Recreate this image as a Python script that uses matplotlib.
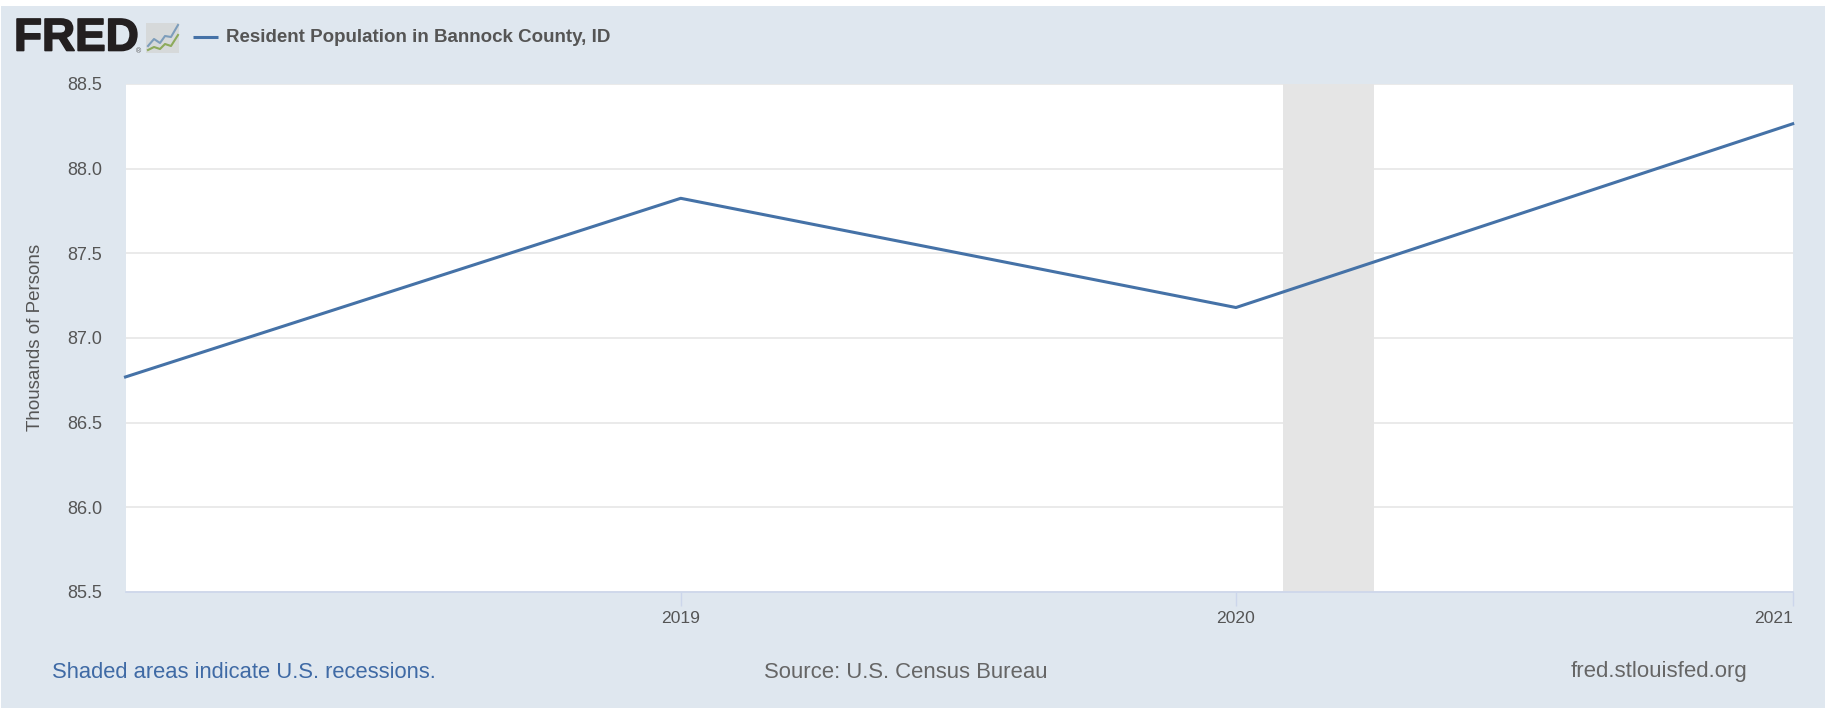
# -*- coding: utf-8 -*-
"""FRED chart: resident population in Bannock County, ID."""

import matplotlib
matplotlib.use("Agg")
import matplotlib.patheffects as pe
import matplotlib.pyplot as plt
import numpy as np
from matplotlib.lines import Line2D
from matplotlib.patches import Rectangle

# -----------------------------------------------------------------------------
# Data
# -----------------------------------------------------------------------------
dates = np.array(["2018-01-01", "2019-01-01", "2020-01-01", "2021-01-01"],
                 dtype="datetime64[D]")
population = [86.77, 87.825, 87.18, 88.265]
recession_start = np.array(["2020-02-01"], dtype="datetime64[D]")
recession_end = np.array(["2020-04-01"], dtype="datetime64[D]")
y_ticks = [85.5, 86.0, 86.5, 87.0, 87.5, 88.0, 88.5]
x_ticks = dates[1:]
x_tick_labels = ["2019", "2020", "2021"]
series_label = "Resident Population in Bannock County, ID"
y_label = "Thousands of Persons"

# -----------------------------------------------------------------------------
# Canvas geometry in pixels
# -----------------------------------------------------------------------------
W, H = 1825, 708
AX_L, AX_R, AX_T, AX_B = 125.5, 1792.7, 84, 592

PANEL = "#DFE7EF"
LINE = "#4572A7"
TEXT = "#555555"
GRID = "#E6E6E6"
AXIS = "#CCD6EB"

plt.rcParams["font.family"] = ["Liberation Sans", "DejaVu Sans"]

fig = plt.figure(figsize=(W / 100, H / 100), dpi=100, facecolor="white")


def fx(px):
    return px / W


def fy(px):
    return 1 - px / H


fig.patches.append(
    Rectangle((fx(1), 0), fx(1824), fy(6), transform=fig.transFigure,
              facecolor=PANEL, edgecolor="none", zorder=-5)
)

ax = fig.add_axes([fx(AX_L), fy(AX_B), fx(AX_R - AX_L), (AX_B - AX_T) / H])
ax.set_facecolor("white")

for start, end in zip(recession_start, recession_end):
    ax.axvspan(start, end, color="#E5E5E5", lw=0, zorder=1)

ax.plot(dates, population, color=LINE, linewidth=2.2, zorder=3,
        solid_joinstyle="round", clip_on=False)

ax.set_xlim(dates[0], dates[-1])
ax.set_ylim(y_ticks[0], y_ticks[-1])
ax.set_yticks(y_ticks)
ax.set_xticks(x_ticks)
ax.set_xticklabels(x_tick_labels)
ax.get_xticklabels()[-1].set_ha("right")
ax.set_yticklabels([f"{v:.1f}" for v in y_ticks])
ax.grid(axis="y", color=GRID, linewidth=1.2, zorder=0)
ax.set_axisbelow(True)

for name in ("top", "right", "left"):
    ax.spines[name].set_visible(False)
ax.spines["bottom"].set_color(AXIS)
ax.spines["bottom"].set_linewidth(1.2)

ax.tick_params(axis="y", length=0, pad=17, labelsize=13, labelcolor=TEXT)
ax.tick_params(axis="x", length=10, width=1, color=AXIS, pad=3.5,
               labelsize=12.6, labelcolor=TEXT)

fig.text(fx(36), fy(337), y_label, rotation=90, ha="center", va="center",
         fontsize=13.5, color=TEXT)

# Header: logo and legend
fig.text(fx(14), fy(38.5), "FRED", fontsize=33, fontweight="bold", color="#231F20",
         ha="left", va="center",
         path_effects=[pe.withStroke(linewidth=1.2, foreground="#231F20")])
fig.text(fx(138), fy(52), "®", fontsize=5, color="#555555", ha="center", va="center")
fig.patches.append(
    Rectangle((fx(146), fy(53)), fx(33), 30 / H, transform=fig.transFigure,
              facecolor="#D6D9DA", edgecolor="none", zorder=2)
)
icon_x = [148, 154, 160, 165, 171, 178]
fig.add_artist(Line2D([fx(v) for v in icon_x],
                      [fy(v) for v in [46, 39, 43, 36, 37, 25]],
                      color="#7D9DBB", linewidth=1.5, zorder=3))
fig.add_artist(Line2D([fx(v) for v in icon_x],
                      [fy(v) for v in [50, 47, 49, 44, 46, 35]],
                      color="#8DAA5B", linewidth=1.5, zorder=3))

fig.add_artist(Line2D([fx(193), fx(218)], [fy(37), fy(37)], color=LINE, linewidth=2.2,
                      solid_capstyle="butt"))
fig.text(fx(226), fy(37), series_label, fontsize=13.5, fontweight="bold",
         color=TEXT, ha="left", va="center")

# Footer
fig.text(fx(52), fy(672), "Shaded areas indicate U.S. recessions.", fontsize=15.8,
         color="#3F6AA5", ha="left", va="center")
fig.text(fx(764), fy(672), "Source: U.S. Census Bureau", fontsize=15.9,
         color="#666666", ha="left", va="center")
fig.text(fx(1571), fy(672), "fred.stlouisfed.org", fontsize=16,
         color="#666666", ha="left", va="center")

fig.savefig("out.png", dpi=100, facecolor="white")
plt.close(fig)
